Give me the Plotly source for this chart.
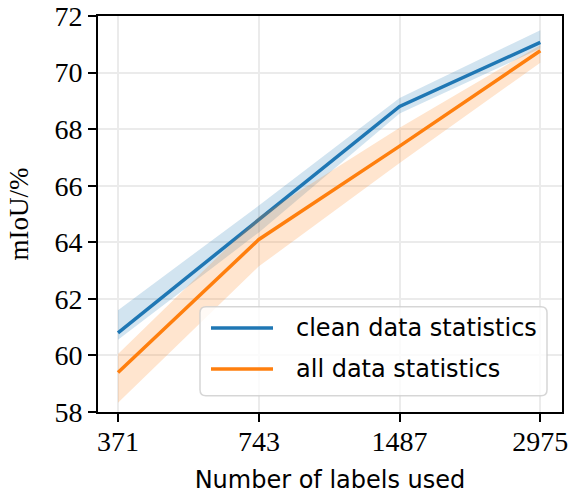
import plotly.graph_objects as go
import math

labels_used = [371, 743, 1487, 2975]
tick_text = ["371", "743", "1487", "2975"]

clean_mean = [60.8, 64.8, 68.8, 71.07]
clean_upper = [61.6, 65.3, 69.1, 71.5]
clean_lower = [60.55, 64.35, 68.55, 70.85]

all_mean = [59.4, 64.1, 67.4, 70.77]
all_upper = [60.05, 64.9, 68.05, 70.97]
all_lower = [58.33, 63.15, 66.8, 70.35]

yticks = [58, 60, 62, 64, 66, 68, 70, 72]

BLUE = "#1f77b4"
ORANGE = "#ff7f0e"
SERIF = "Liberation Serif, DejaVu Serif, serif"
SANS = "DejaVu Sans, sans-serif"

fig = go.Figure()

def add_series(x, mean, lo, hi, color, fillcolor, name):
    fig.add_trace(go.Scatter(x=x, y=hi, mode="lines", line=dict(width=0),
                             showlegend=False, hoverinfo="skip"))
    fig.add_trace(go.Scatter(x=x, y=lo, mode="lines", line=dict(width=0),
                             fill="tonexty", fillcolor=fillcolor,
                             showlegend=False, hoverinfo="skip"))
    fig.add_trace(go.Scatter(x=x, y=mean, mode="lines", name=name,
                             line=dict(color=color, width=3.5), showlegend=False))

add_series(labels_used, clean_mean, clean_lower, clean_upper, BLUE,
           "rgba(31,119,180,0.2)", "clean data statistics")
add_series(labels_used, all_mean, all_lower, all_upper, ORANGE,
           "rgba(255,127,14,0.2)", "all data statistics")

# plot area geometry (pixels)
W, H = 572, 495
L, R, T, B = 98, 10, 16, 83
pw = W - L - R
ph = H - T - B

def px2paper(px, py):
    return (px - L) / pw, (H - B - py) / ph

# x log range
ppu = 422.3 / (math.log10(2975) - math.log10(371))
xl = math.log10(371) - 20 / ppu
xr = xl + pw / ppu

fig.update_layout(
    width=W, height=H,
    margin=dict(l=L, r=R, t=T, b=B, autoexpand=False),
    plot_bgcolor="white", paper_bgcolor="white",
    xaxis=dict(type="log", range=[xl, xr], tickvals=labels_used, ticktext=tick_text,
               automargin=False, ticklabelstandoff=-5,
               showgrid=True, gridcolor="#ebebeb", gridwidth=1.5,
               showline=True, linecolor="black", linewidth=1.8, mirror=True,
               ticks="outside", ticklen=8, tickwidth=1.6, tickcolor="black",
               tickfont=dict(family=SERIF, size=28, color="black"),
               title=dict(text="Number of labels used",
                          font=dict(family=SANS, size=24, color="black"),
                          standoff=16),
               zeroline=False),
    yaxis=dict(range=[58, 72], tickvals=yticks, automargin=False,
               showgrid=True, gridcolor="#ebebeb", gridwidth=1.5,
               showline=True, linecolor="black", linewidth=1.8, mirror=True,
               ticks="outside", ticklen=8, tickwidth=1.6, tickcolor="black",
               tickfont=dict(family=SERIF, size=28, color="black"),
               title=dict(text="mIoU/%", font=dict(family=SERIF, size=27, color="black"),
                          standoff=18),
               zeroline=False),
    showlegend=False,
)

# manual legend (matplotlib style rounded box)
x0, y0 = px2paper(200, 395.7)
x1, y1 = px2paper(547, 306.7)
r = 6
rx, ry = r / pw, r / ph
path = (f"M {x0+rx},{y0} L {x1-rx},{y0} Q {x1},{y0} {x1},{y0+ry} "
        f"L {x1},{y1-ry} Q {x1},{y1} {x1-rx},{y1} L {x0+rx},{y1} "
        f"Q {x0},{y1} {x0},{y1-ry} L {x0},{y0+ry} Q {x0},{y0} {x0+rx},{y0} Z")
fig.add_shape(type="path", path=path, xref="paper", yref="paper",
              fillcolor="rgba(255,255,255,0.8)", line=dict(color="rgba(204,204,204,0.8)", width=1.5),
              layer="above")

legend_items = [("clean data statistics", BLUE, 328), ("all data statistics", ORANGE, 369)]
for text, color, py in legend_items:
    lx0, ly = px2paper(211, py)
    lx1, _ = px2paper(273, py)
    fig.add_shape(type="line", xref="paper", yref="paper", x0=lx0, x1=lx1, y0=ly, y1=ly,
                  line=dict(color=color, width=3.5), layer="above")
    tx, _ = px2paper(294, py)
    fig.add_annotation(x=tx, y=ly, xref="paper", yref="paper", text=text, showarrow=False,
                       xanchor="left", yanchor="middle",
                       font=dict(family=SANS, size=24, color="black"))

fig.write_html("out.html", config={"displayModeBar": False},
               post_script="document.body.style.margin='0';document.body.style.overflow='hidden';")
